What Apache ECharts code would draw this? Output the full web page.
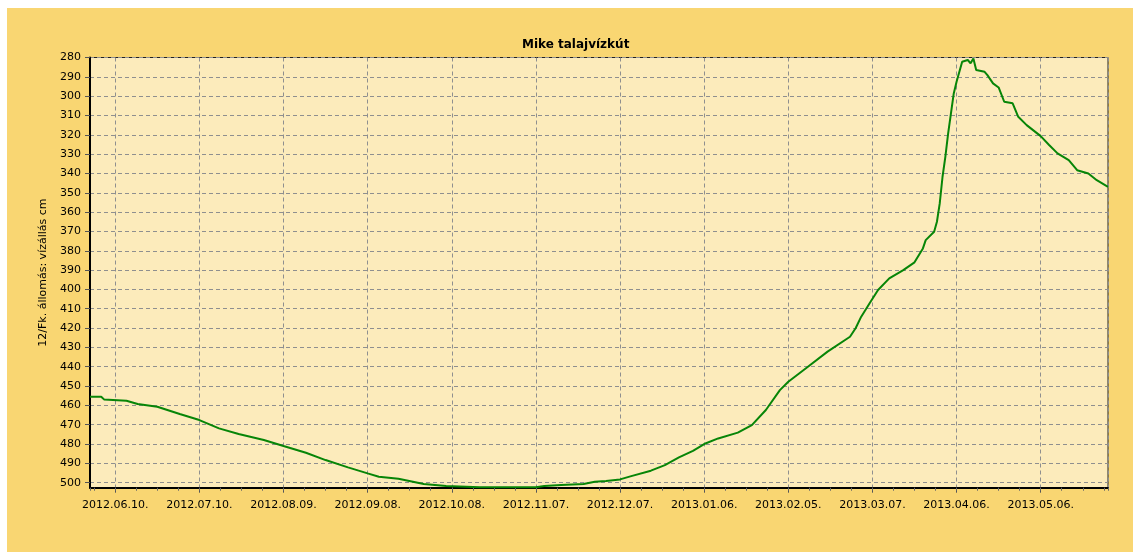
<!DOCTYPE html>
<html>
<head>
<meta charset="utf-8">
<script src="https://cdn.jsdelivr.net/npm/echarts@6/dist/echarts.min.js"></script>
<style>
    html, body { margin: 0; padding: 0; background: #fff; }
    #chart { position: absolute; left: 7px; top: 8px; width: 1126px; height: 544px; }
</style>
</head>
<body>
<div id="chart"></div>
<script>
// readings (date, water level in cm)
const dates = [
    '2012-06-01', '2012-06-05', '2012-06-06', '2012-06-14', '2012-06-18', '2012-06-25',
    '2012-07-03', '2012-07-10', '2012-07-17', '2012-07-24', '2012-08-02', '2012-08-09',
    '2012-08-17', '2012-08-24', '2012-09-01', '2012-09-08', '2012-09-12', '2012-09-19',
    '2012-09-28', '2012-10-06', '2012-10-18', '2012-11-07', '2012-11-10', '2012-11-16',
    '2012-11-24', '2012-11-28', '2012-12-02', '2012-12-07', '2012-12-11', '2012-12-18',
    '2012-12-23', '2012-12-28', '2013-01-02', '2013-01-06', '2013-01-11', '2013-01-18',
    '2013-01-23', '2013-01-28', '2013-02-02', '2013-02-05', '2013-02-12', '2013-02-19',
    '2013-02-27', '2013-03-01', '2013-03-03', '2013-03-06', '2013-03-09', '2013-03-13',
    '2013-03-18', '2013-03-22', '2013-03-25', '2013-03-26', '2013-03-29', '2013-03-30',
    '2013-03-31', '2013-04-01', '2013-04-02', '2013-04-03', '2013-04-04', '2013-04-05',
    '2013-04-06', '2013-04-08', '2013-04-10', '2013-04-11', '2013-04-12', '2013-04-13',
    '2013-04-16', '2013-04-17', '2013-04-19', '2013-04-21', '2013-04-23', '2013-04-26',
    '2013-04-28', '2013-05-01', '2013-05-06', '2013-05-09', '2013-05-12', '2013-05-16',
    '2013-05-19', '2013-05-23', '2013-05-26', '2013-05-30'
]
const levels = [
    455.5, 455.5, 456.9, 457.6, 459.3, 460.7,
    464.5, 467.6, 471.9, 474.8, 477.9, 481.0,
    484.5, 488.3, 492.1, 495.2, 496.9, 498.0,
    500.7, 501.7, 502.4, 502.4, 501.7, 501.2,
    500.7, 499.5, 499.1, 498.3, 496.6, 493.8,
    490.9, 486.9, 483.5, 480.0, 477.1, 474.1,
    470.2, 462.4, 452.1, 447.8, 440.0, 432.2,
    424.5, 420.1, 414.1, 407.2, 400.3, 394.3,
    390.0, 386.0, 378.8, 374.5, 370.2, 365.0,
    355.5, 341.7, 331.4, 319.3, 308.9, 298.6,
    292.6, 282.2, 281.3, 283.0, 280.5, 286.5,
    287.4, 289.1, 293.4, 295.5, 302.9, 303.7,
    310.7, 315.0, 320.7, 325.3, 329.6, 333.1,
    338.3, 340.0, 343.5, 346.9
]
const xTickLabels = [
    '2012.06.10.', '2012.07.10.', '2012.08.09.', '2012.09.08.', '2012.10.08.', '2012.11.07.',
    '2012.12.07.', '2013.01.06.', '2013.02.05.', '2013.03.07.', '2013.04.06.', '2013.05.06.'
]
const xStart = '2012-06-01'
const xEnd = '2013-05-30'
const yMin = 280
const yMax = 502.6

const font = 'DejaVu Sans'
const gridColor = '#8f8f8f'

// days counted from the first labelled date (2012.06.10.)
function dayIndex(s) {
    const p = s.split('-').map(Number)
    return Math.round((Date.UTC(p[0], p[1] - 1, p[2]) - Date.UTC(2012, 5, 10)) / 86400000)
}

const seriesData = dates.map((d, i) => [dayIndex(d), levels[i]])

const chart = echarts.init(document.getElementById('chart'))
chart.setOption({
    animation: false,
    backgroundColor: '#F9D672',
    title: {
        text: 'Mike talajvízkút',
        left: 510,
        top: 26,
        textStyle: {fontFamily: font, fontSize: 12, fontWeight: 'bold', color: '#000'}
    },
    grid: {
        left: 83,
        top: 49.5,
        right: 25,
        bottom: 64.3,
        show: true,
        backgroundColor: '#FCEBBB',
        borderColor: '#222',
        borderWidth: 1,
        outerBoundsMode: 'none'
    },
    xAxis: [
        {
            type: 'value',
            min: dayIndex(xStart),
            max: dayIndex(xEnd),
            minInterval: 30,
            maxInterval: 30,
            axisLine: {onZero: false, lineStyle: {color: '#000', width: 2}},
            axisTick: {show: true, length: 5, lineStyle: {color: '#555'}},
            axisLabel: {
                margin: 12,
                color: '#000',
                fontFamily: font,
                fontSize: 11,
                showMinLabel: false,
                showMaxLabel: false,
                formatter: v => (v % 30 === 0 && v >= 0) ? (xTickLabels[v / 30] || '') : ''
            },
            splitLine: {show: true, lineStyle: {color: gridColor, type: [4, 3]}}
        },
        {
            // small ticks between the labelled dates
            type: 'value',
            position: 'bottom',
            min: dayIndex(xStart),
            max: dayIndex(xEnd),
            minInterval: 7.5,
            maxInterval: 7.5,
            axisLine: {show: false, onZero: false},
            axisTick: {show: true, length: 3, lineStyle: {color: '#666'}},
            axisLabel: {show: false},
            splitLine: {show: false}
        }
    ],
    yAxis: {
        type: 'value',
        inverse: true,
        min: yMin,
        max: yMax,
        interval: 10,
        name: '12/Fk. állomás: vízállás cm',
        nameLocation: 'middle',
        nameRotate: 90,
        nameGap: 31,
        nameTextStyle: {fontFamily: font, fontSize: 11, color: '#000'},
        axisLine: {show: true, onZero: false, lineStyle: {color: '#000', width: 2}},
        axisTick: {show: true, length: 5, lineStyle: {color: '#555'}},
        axisLabel: {
            margin: 9,
            color: '#000',
            fontFamily: font,
            fontSize: 11,
            showMaxLabel: false,
            formatter: v => (v % 10 === 0) ? String(v) : ''
        },
        splitLine: {show: true, lineStyle: {color: gridColor, type: [4, 3]}}
    },
    series: [
        {
            type: 'line',
            xAxisIndex: 0,
            data: seriesData,
            showSymbol: false,
            lineStyle: {color: '#078507', width: 2},
            itemStyle: {color: '#078507'}
        }
    ]
})
</script>
</body>
</html>
